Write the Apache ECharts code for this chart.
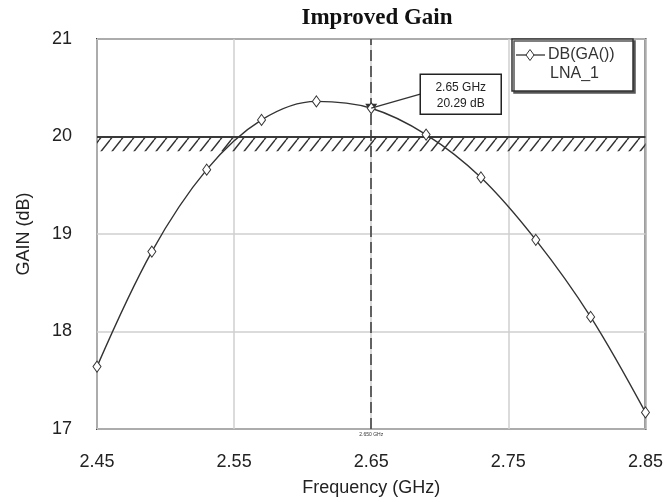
<!DOCTYPE html>
<html><head><meta charset="utf-8">
<script src="https://cdn.jsdelivr.net/npm/echarts@6/dist/echarts.min.js"></script>
<style>html,body{margin:0;padding:0;background:#fff}#c{width:666px;height:502px}</style>
</head><body><div id="c"></div>
<script>
const chartTitle = 'Improved Gain';
const freqGHz = [2.45, 2.49, 2.53, 2.57, 2.61, 2.65, 2.69, 2.73, 2.77, 2.81, 2.85];
const gainDb  = [17.64, 18.82, 19.66, 20.17, 20.36, 20.29, 20.02, 19.58, 18.94, 18.15, 17.17];
const xTicks = [2.45, 2.55, 2.65, 2.75, 2.85];
const yTicks = [17, 18, 19, 20, 21];
const specLimitDb = 20;
const hatchBottomDb = 19.85;
const markerFreq = 2.65;
const markerGain = 20.29;
const markerAxisText = '2.650 GHz';
const legendName = 'DB(GA())';
const legendSub = 'LNA_1';
const xName = 'Frequency (GHz)';
const yName = 'GAIN (dB)';

function hatchPattern() {
  const c = document.createElement('canvas');
  c.width = 11; c.height = 14;
  const g = c.getContext('2d');
  g.strokeStyle = '#333'; g.lineWidth = 1.4;
  g.beginPath();
  g.moveTo(0, 14); g.lineTo(11, 0);
  g.moveTo(-11, 14); g.lineTo(0, 0);
  g.moveTo(11, 14); g.lineTo(22, 0);
  g.stroke();
  return c;
}

const chart = echarts.init(document.getElementById('c'), null, {renderer: 'canvas'});
const data = freqGHz.map((f, i) => [f, gainDb[i]]);
const font = 'Arial, "Liberation Sans", sans-serif';

chart.setOption({
  backgroundColor: '#fff',
  animation: false,
  title: {
    text: chartTitle, left: 372, top: 2, textAlign: 'center',
    textStyle: {fontFamily: '"Liberation Serif", "Times New Roman", serif', fontWeight: 'bold', fontSize: 23, color: '#111'}
  },
  grid: {left: 97, right: 20, top: 39, bottom: 71, show: true, borderColor: '#444', borderWidth: 2, backgroundColor: 'transparent'},
  xAxis: {
    type: 'value', min: xTicks[0], max: xTicks[xTicks.length - 1],
    axisLabel: {customValues: xTicks, formatter: v => v.toFixed(2), fontSize: 18, color: '#222', fontFamily: font, margin: 24},
    axisTick: {show: false, customValues: xTicks},
    axisLine: {show: false},
    splitLine: {show: true, lineStyle: {color: '#cfcfcf', width: 1.5}},
    name: xName, nameLocation: 'middle', nameGap: 50,
    nameTextStyle: {fontSize: 18, color: '#222', fontFamily: font}
  },
  yAxis: {
    type: 'value', min: yTicks[0], max: yTicks[yTicks.length - 1], interval: 1,
    axisLabel: {fontSize: 18, color: '#222', fontFamily: font, margin: 25},
    axisTick: {show: false},
    axisLine: {show: false},
    splitLine: {show: true, lineStyle: {color: '#cfcfcf', width: 1.5}},
    name: yName, nameLocation: 'middle', nameGap: 64,
    nameTextStyle: {fontSize: 18, color: '#222', fontFamily: font}
  },
  series: [{
    type: 'line', name: legendName, data: data, smooth: 0.35,
    symbol: 'diamond', symbolSize: [8, 11], showAllSymbol: true,
    lineStyle: {color: '#333', width: 1.4},
    itemStyle: {color: '#fff', borderColor: '#333', borderWidth: 1},
    z: 5,
    markArea: {
      silent: true,
      itemStyle: {color: {image: hatchPattern(), repeat: 'repeat'}},
      data: [[{yAxis: specLimitDb}, {yAxis: hatchBottomDb}]]
    },
    markLine: {
      silent: true, symbol: 'none',
      data: [
        {yAxis: specLimitDb, lineStyle: {color: '#3a3a3a', width: 2, type: 'solid'}, label: {show: false}},
        {xAxis: markerFreq, lineStyle: {color: '#3a3a3a', width: 1.5, type: [11, 5]},
         label: {show: true, position: 'start', formatter: markerAxisText, fontSize: 5, color: '#333', distance: 3}}
      ]
    },
    markPoint: {
      silent: true,
      data: [{coord: [markerFreq, markerGain], symbol: 'triangle', symbolRotate: 180, symbolSize: [12, 9],
              itemStyle: {color: '#333'}, label: {show: false}}]
    }
  }]
});

const p = chart.convertToPixel({gridIndex: 0}, [markerFreq, markerGain]);
const bx = p[0] + 49, by = p[1] - 34, bw = 81, bh = 40;
chart.setOption({
  graphic: [
    {type: 'line', shape: {x1: p[0], y1: p[1], x2: bx, y2: by + bh / 2}, style: {stroke: '#333', lineWidth: 1.3}, z: 20},
    {type: 'rect', shape: {x: bx, y: by, width: bw, height: bh},
     style: {fill: '#fff', stroke: '#222', lineWidth: 1.5}, z: 20},
    {type: 'text', x: bx + bw / 2, y: by + 13, z: 21,
     style: {text: markerFreq.toFixed(2) + ' GHz', fontSize: 12, fontFamily: font, fill: '#222', align: 'center', verticalAlign: 'middle'}},
    {type: 'text', x: bx + bw / 2, y: by + 29, z: 21,
     style: {text: markerGain.toFixed(2) + ' dB', fontSize: 12, fontFamily: font, fill: '#222', align: 'center', verticalAlign: 'middle'}},
    // legend
    {type: 'rect', shape: {x: 512, y: 39, width: 121, height: 52},
     style: {fill: '#fff', stroke: '#333', lineWidth: 1.5, shadowColor: '#555', shadowOffsetX: 2, shadowOffsetY: 2, shadowBlur: 0}, z: 20},
    {type: 'line', shape: {x1: 516, y1: 55, x2: 545, y2: 55}, style: {stroke: '#333', lineWidth: 1.3}, z: 21},
    {type: 'polygon', shape: {points: [[530, 49.5], [534, 55], [530, 60.5], [526, 55]]},
     style: {fill: '#fff', stroke: '#333', lineWidth: 1}, z: 22},
    {type: 'text', x: 548, y: 55, z: 21,
     style: {text: legendName, fontSize: 16, fontFamily: font, fill: '#333', verticalAlign: 'middle'}},
    {type: 'text', x: 550, y: 74, z: 21,
     style: {text: legendSub, fontSize: 16, fontFamily: font, fill: '#333', verticalAlign: 'middle'}}
  ]
});
</script>
</body></html>
